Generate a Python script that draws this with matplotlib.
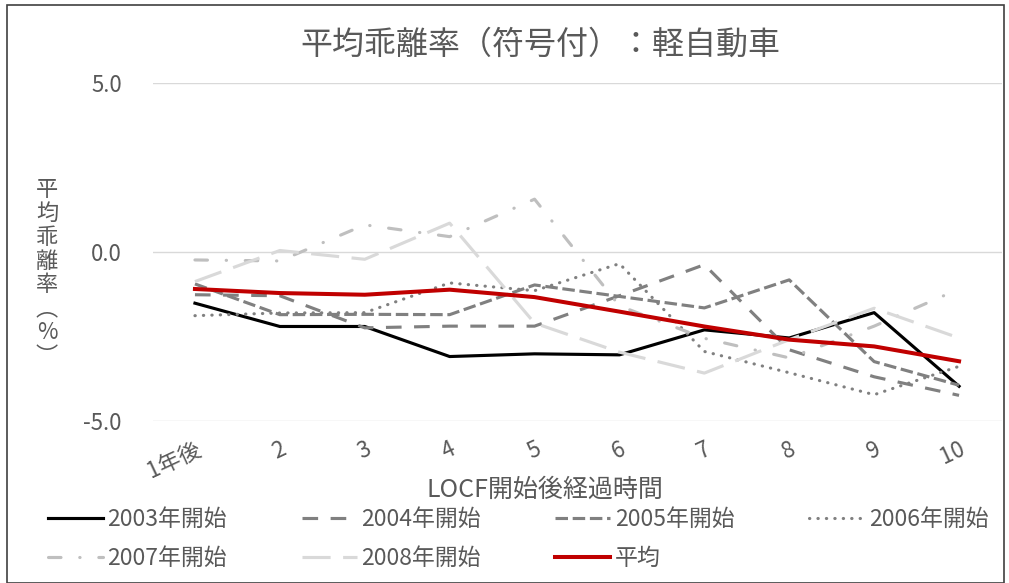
import matplotlib
matplotlib.use("Agg")
import matplotlib.pyplot as plt
from matplotlib.patches import Rectangle

plt.rcParams["font.family"] = ["Noto Sans CJK JP", "DejaVu Sans"]

# chart values
categories = ["1年後", "2", "3", "4", "5", "6", "7", "8", "9", "10"]
s2003 = [-1.52, -2.21, -2.21, -3.10, -3.02, -3.05, -2.31, -2.55, -1.80, -3.98]
s2004 = [-1.27, -1.30, -2.25, -2.20, -2.20, -1.30, -0.38, -2.90, -3.70, -4.25]
s2005 = [-0.95, -1.86, -1.85, -1.86, -0.98, -1.32, -1.66, -0.83, -3.25, -3.95]
s2006 = [-1.89, -1.81, -1.80, -0.92, -1.15, -0.35, -2.95, -3.58, -4.23, -3.39]
s2007 = [-0.24, -0.27, 0.80, 0.45, 1.56, -1.60, -2.56, -3.14, -2.20, -1.10]
s2008 = [-0.88, 0.04, -0.22, 0.85, -2.11, -2.97, -3.59, -2.60, -1.67, -2.55]
s_mean = [-1.10, -1.22, -1.27, -1.12, -1.34, -1.77, -2.21, -2.60, -2.80, -3.24]

TXT = "#595959"
W, H = 1009, 583

fig = plt.figure(figsize=(W / 100, H / 100), dpi=100)
ax = fig.add_axes([152.5 / W, 1 - 420.7 / H, 849 / W, 337.7 / H])

x = list(range(len(categories)))
ax.plot(x, s2003, color="#000000", lw=2.25, label="2003年開始")
ax.plot(x, s2004, color="#808080", lw=2.25, ls=(0, (5, 4)), label="2004年開始")
ax.plot(x, s2005, color="#808080", lw=2.25, ls=(0, (4, 1.5)), label="2005年開始")
ax.plot(x, s2006, color="#808080", lw=2.25, ls=(0, (0.1, 2.6)),
        dash_capstyle="round", label="2006年開始")
ax.plot(x, s2007, color="#BFBFBF", lw=2.25, ls=(0, (4, 6, 0.1, 6)),
        dash_capstyle="round", label="2007年開始")
ax.plot(x, s2008, color="#D9D9D9", lw=2.25, ls=(0, (9, 4)), label="2008年開始")
ax.plot(x, s_mean, color="#C00000", lw=2.9, label="平均")

ax.set_xlim(-0.5, len(categories) - 0.5)
ax.set_ylim(-5, 5)
ax.set_yticks([-5, 0, 5])
ax.set_yticklabels(["-5.0", "0.0", "5.0"])
for yv in [-5, 0, 5]:
    ax.axhline(yv, color="#D9D9D9", lw=1.0, zorder=0)
for sp in ax.spines.values():
    sp.set_visible(False)
ax.tick_params(axis="y", length=0, pad=22, labelsize=16, labelcolor=TXT)
ax.tick_params(axis="x", length=0, pad=12, labelsize=16, labelcolor=TXT)
ax.set_xticks(x)
ax.set_xticklabels(categories, rotation=25, ha="right", rotation_mode="anchor")

ax.set_xlabel("LOCF開始後経過時間", fontsize=18, color=TXT, va="center")
ax.xaxis.set_label_coords(0.462, (420.7 - 490) / 337.7)
fig.text(540 / W, 1 - 45 / H, "平均乖離率（符号付）：軽自動車", fontsize=23,
         color=TXT, ha="center", va="center")
fig.text(47 / W, 1 - 273 / H, "\n".join("平均乖離率︵%︶"), fontsize=16,
         color=TXT, ha="center", va="center", linespacing=1.05)

# legend: reorder so rows read 2003..2006 / 2007, 2008, 平均
h, l = ax.get_legend_handles_labels()
order = [0, 4, 1, 5, 2, 6, 3]
leg = fig.legend([h[i] for i in order], [l[i] for i in order], ncol=4,
                 loc="upper left", bbox_to_anchor=(48 / W, 1 - 508 / H),
                 frameon=False, fontsize=16.5, handlelength=2.4,
                 handletextpad=0.2, columnspacing=3.25, labelspacing=0.7,
                 borderpad=0, borderaxespad=0)
for t in leg.get_texts():
    t.set_color(TXT)

fig.patches.append(Rectangle((7 / W, 0), 997 / W, 1 - 5 / H, transform=fig.transFigure,
                             fill=False, edgecolor="#404040", lw=1.2))

fig.savefig("out.png", dpi=100)
